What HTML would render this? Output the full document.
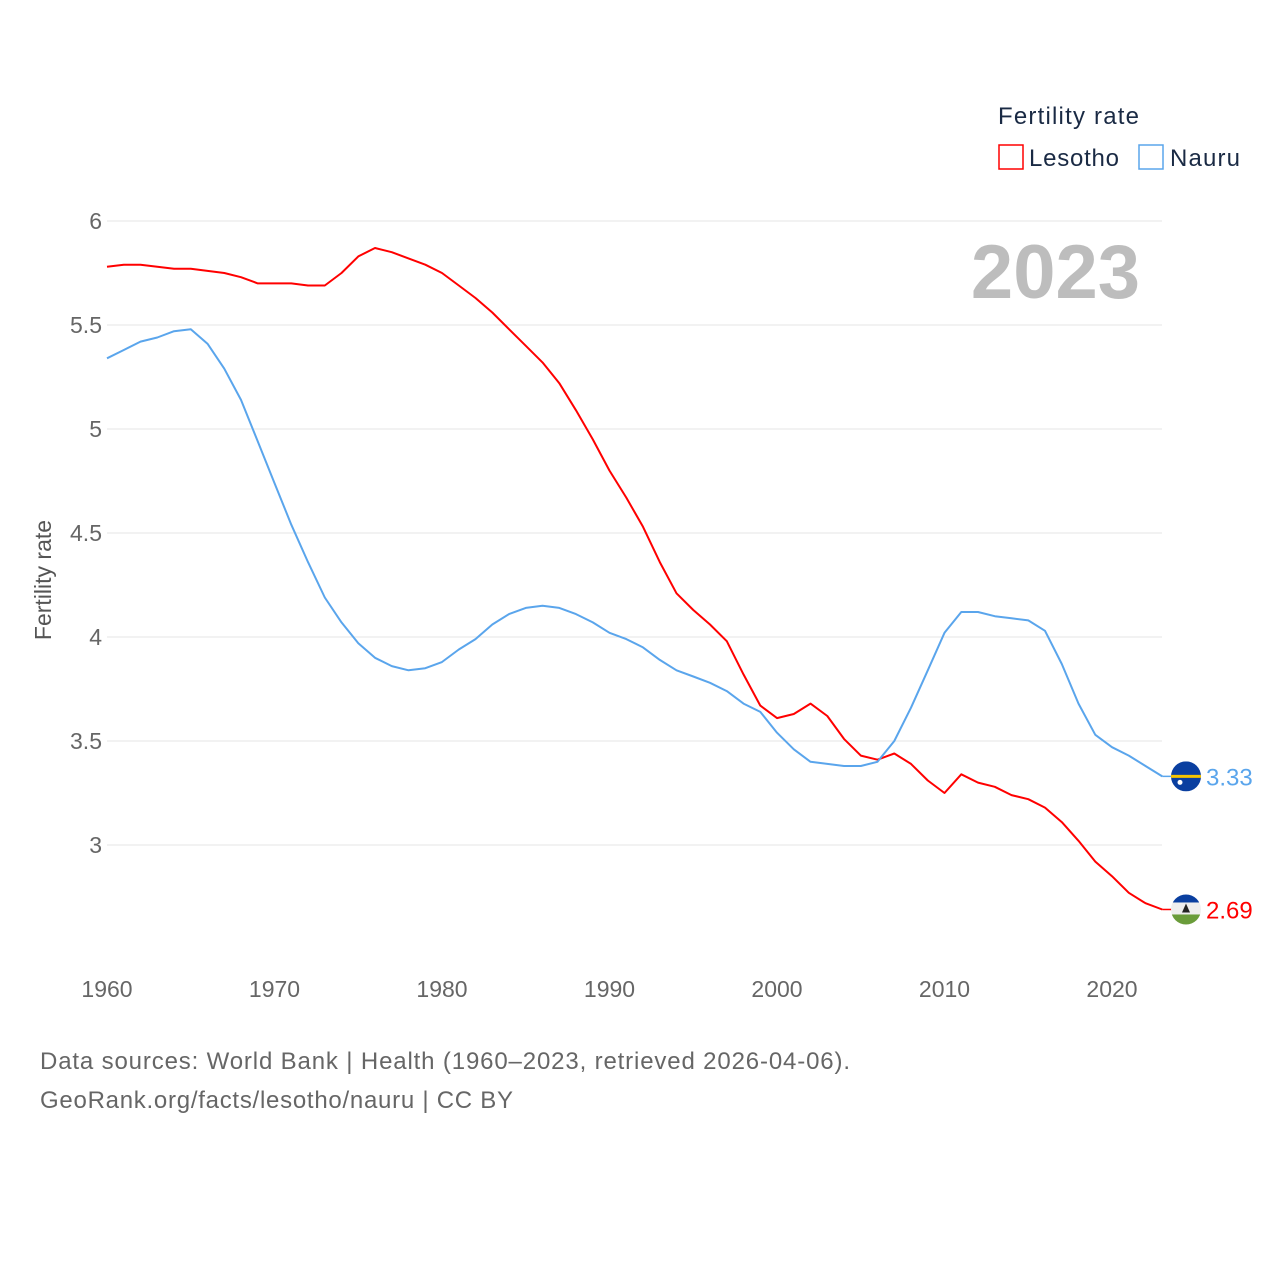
<!DOCTYPE html>
<html><head><meta charset="utf-8">
<style>
body{margin:0;background:#fff;}
svg text{font-family:"Liberation Sans",sans-serif;}
</style></head>
<body>
<svg id="chart" width="1280" height="1280" viewBox="0 0 1280 1280">
<rect width="1280" height="1280" fill="#fff"/>
<g id="grid"></g>
<g id="yticks"></g>
<g id="xticks"></g>
<text x="1140" y="298" text-anchor="end" font-size="76" font-weight="bold" fill="#bdbdbd">2023</text>
<text transform="translate(51,580) rotate(-90)" text-anchor="middle" font-size="23" fill="#555">Fertility rate</text>
<g>
<text x="998" y="124" font-size="24" fill="#1a2a44" textLength="141">Fertility rate</text>
<g><rect x="999" y="145" width="24" height="24" fill="none" stroke="#ff0000" stroke-width="1.5"/><text x="1029" y="166" font-size="24" fill="#1a2a44" textLength="90">Lesotho</text></g>
<g><rect x="1139" y="145" width="24" height="24" fill="none" stroke="#5aa5ec" stroke-width="1.5"/><text x="1170" y="166" font-size="24" fill="#1a2a44" textLength="70">Nauru</text></g>
</g>
<g id="series"></g>
<text x="40" y="1069" font-size="24" fill="#666" textLength="810">Data sources: World Bank | Health (1960–2023, retrieved 2026-04-06).</text>
<text x="40" y="1108" font-size="24" fill="#666" textLength="473">GeoRank.org/facts/lesotho/nauru | CC BY</text>
</svg>
<script>
const years = [];
for (let y = 1960; y <= 2023; y++) years.push(y);
const lesotho = [5.78,5.79,5.79,5.78,5.77,5.77,5.76,5.75,5.73,5.70,5.70,5.70,5.69,5.69,5.75,5.83,5.87,5.85,5.82,5.79,5.75,5.69,5.63,5.56,5.48,5.40,5.32,5.22,5.09,4.95,4.80,4.67,4.53,4.36,4.21,4.13,4.06,3.98,3.82,3.67,3.61,3.63,3.68,3.62,3.51,3.43,3.41,3.44,3.39,3.31,3.25,3.34,3.30,3.28,3.24,3.22,3.18,3.11,3.02,2.92,2.85,2.77,2.72,2.69];
const nauru = [5.34,5.38,5.42,5.44,5.47,5.48,5.41,5.29,5.14,4.94,4.74,4.54,4.36,4.19,4.07,3.97,3.90,3.86,3.84,3.85,3.88,3.94,3.99,4.06,4.11,4.14,4.15,4.14,4.11,4.07,4.02,3.99,3.95,3.89,3.84,3.81,3.78,3.74,3.68,3.64,3.54,3.46,3.40,3.39,3.38,3.38,3.40,3.50,3.66,3.84,4.02,4.12,4.12,4.10,4.09,4.08,4.03,3.87,3.68,3.53,3.47,3.43,3.38,3.33];
const yTicks = [3,3.5,4,4.5,5,5.5,6];
const yTickLabels = ["3","3.5","4","4.5","5","5.5","6"];
const xTicks = [1960,1970,1980,1990,2000,2010,2020];

const NS = "http://www.w3.org/2000/svg";
const X = yr => 107 + (yr - 1960) * 16.75;
const Y = v => 845 - (v - 3) * 208;
function mk(tag, attrs, parent){const e=document.createElementNS(NS,tag);for(const k in attrs)e.setAttribute(k,attrs[k]);parent.appendChild(e);return e;}

const grid = document.getElementById('grid'), yt = document.getElementById('yticks'), xt = document.getElementById('xticks'), ser = document.getElementById('series');
yTicks.forEach((v,i)=>{
  const l = mk('line',{x1:107,x2:1162,y1:Y(v),y2:Y(v),stroke:'#e6e6e6','stroke-width':1},grid);
  
  
  const t = mk('text',{x:102,y:Y(v)+8,'text-anchor':'end','font-size':23,fill:'#666'},yt);
  t.textContent = yTickLabels[i];
  
  
});
xTicks.forEach(yr=>{
  const t = mk('text',{x:X(yr),y:997,'text-anchor':'middle','font-size':23,fill:'#666'},xt);
  t.textContent = yr;
  
  
});
function line(vals,color,name){
  const d = vals.map((v,i)=>(i?'L':'M')+X(years[i]).toFixed(1)+','+Y(v).toFixed(1)).join(' ');
  const p = mk('path',{d:d,fill:'none',stroke:color,'stroke-width':2,'stroke-linejoin':'round'},ser);
  
  
}
line(lesotho,'#ff0000','lesotho-line');
line(nauru,'#5aa5ec','nauru-line');

function endMarker(vals,color,name,flag){
  const v = vals[vals.length-1], y = Y(v), x = X(2023);
  const g = mk('g',{},ser);
  
  
  mk('line',{x1:x,x2:1172,y1:y,y2:y,stroke:color,'stroke-width':1.5},g);
  const cx=1186, r=15;
  const cid = name+'-clip';
  const cp = mk('clipPath',{id:cid},g); mk('circle',{cx:cx,cy:y,r:r},cp);
  const fg = mk('g',{'clip-path':'url(#'+cid+')'},g);
  if(flag==='nauru'){
    mk('rect',{x:cx-r,y:y-r,width:2*r,height:2*r,fill:'#0a3fa0'},fg);
    mk('rect',{x:cx-r,y:y-1.5,width:2*r,height:3,fill:'#f5c400'},fg);
    mk('circle',{cx:cx-6,cy:y+6,r:2.5,fill:'#fff'},fg);
  } else {
    mk('rect',{x:cx-r,y:y-r,width:2*r,height:2*r,fill:'#eee'},fg);
    mk('rect',{x:cx-r,y:y-r,width:2*r,height:8,fill:'#0a3fa0'},fg);
    mk('rect',{x:cx-r,y:y+5,width:2*r,height:12,fill:'#6a9c3a'},fg);
    mk('path',{d:`M${cx-4},${y+3} L${cx+4},${y+3} L${cx},${y-6} Z`,fill:'#222'},fg);
  }
  const t = mk('text',{x:1206,y:y+9,'font-size':24,fill:color},g);
  t.textContent = v.toFixed(2);
}
endMarker(nauru,'#5aa5ec','nauru-end-label','nauru');
endMarker(lesotho,'#ff0000','lesotho-end-label','lesotho');
</script>
</body></html>
